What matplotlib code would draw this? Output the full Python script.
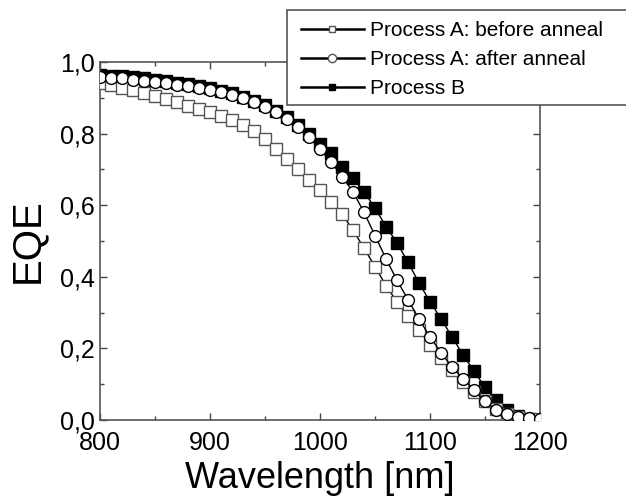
import matplotlib
matplotlib.use('Agg')
import matplotlib.pyplot as plt
from matplotlib.lines import Line2D
from matplotlib.patches import Rectangle
from matplotlib.ticker import MultipleLocator, FuncFormatter
import numpy as np

wavelength = list(range(800, 1201, 10))

# Process A: before anneal (open squares)
eqe_a_before = [0.940, 0.935, 0.928, 0.921, 0.914, 0.906, 0.897, 0.888, 0.878, 0.869,
                0.860, 0.848, 0.838, 0.825, 0.808, 0.785, 0.758, 0.730, 0.700, 0.670,
                0.642, 0.610, 0.575, 0.530, 0.480, 0.428, 0.375, 0.330, 0.290, 0.250,
                0.210, 0.172, 0.140, 0.107, 0.077, 0.052, 0.032, 0.016, 0.007, 0.003,
                0.002]

# Process A: after anneal (open circles)
eqe_a_after = [0.958, 0.956, 0.954, 0.951, 0.948, 0.945, 0.941, 0.937, 0.933, 0.928,
               0.922, 0.915, 0.908, 0.899, 0.887, 0.874, 0.859, 0.840, 0.818, 0.790,
               0.756, 0.720, 0.680, 0.637, 0.580, 0.515, 0.450, 0.390, 0.336, 0.282,
               0.232, 0.188, 0.148, 0.115, 0.083, 0.052, 0.029, 0.016, 0.008, 0.005,
               0.004]

# Process B (filled squares)
eqe_b = [0.964, 0.962, 0.960, 0.957, 0.954, 0.950, 0.946, 0.942, 0.938, 0.933,
         0.927, 0.920, 0.912, 0.903, 0.892, 0.879, 0.864, 0.846, 0.824, 0.798,
         0.770, 0.745, 0.708, 0.676, 0.637, 0.592, 0.540, 0.495, 0.440, 0.383,
         0.330, 0.283, 0.232, 0.182, 0.137, 0.091, 0.056, 0.028, 0.010, 0.003,
         0.001]

labels = ['Process A: before anneal', 'Process A: after anneal', 'Process B']

plt.rcParams['font.family'] = ['Liberation Sans', 'DejaVu Sans']


def main():
    fig = plt.figure(figsize=(6.26, 4.97), dpi=100)
    ax = fig.add_axes([0.16, 0.155, 0.7026, 0.7203])

    ax.plot(wavelength, eqe_b, color='black', lw=1, marker='s', ms=8,
            mfc='black', mec='black', mew=1, zorder=2)
    ax.plot(wavelength, eqe_a_before, color='black', lw=1, marker='s', ms=8,
            mfc='white', mec='#555555', mew=1, zorder=3)
    ax.plot(wavelength, eqe_a_after, color='black', lw=1, marker='o', ms=8.5,
            mfc='white', mec='black', mew=1, zorder=4)

    ax.set_xlim(800, 1200)
    ax.set_ylim(0, 1.0)
    ax.xaxis.set_major_locator(MultipleLocator(100))
    ax.xaxis.set_minor_locator(MultipleLocator(50))
    ax.yaxis.set_major_locator(MultipleLocator(0.2))
    ax.yaxis.set_minor_locator(MultipleLocator(0.1))
    ax.yaxis.set_major_formatter(FuncFormatter(lambda v, p: ('%.1f' % v).replace('.', ',')))

    ax.tick_params(which='both', direction='in', top=True, right=True,
                   color='#444444', labelsize=18)
    ax.tick_params(axis='x', which='major', pad=8)
    ax.tick_params(axis='y', which='major', pad=4)
    ax.tick_params(which='major', length=5, width=1)
    ax.tick_params(which='minor', length=3, width=1)
    for s in ax.spines.values():
        s.set_color('#555555')
        s.set_linewidth(1.2)

    ax.set_xlabel('Wavelength [nm]', fontsize=26, labelpad=4)
    ax.set_ylabel('EQE', fontsize=29, labelpad=10)

    # legend frame runs off the right edge of the picture
    fig.patches.append(Rectangle((287 / 626, 1 - 105 / 497), 0.6, 95 / 497,
                                 transform=fig.transFigure, facecolor='white',
                                 edgecolor='#555555', lw=1.2, zorder=9))

    handles = [
        Line2D([], [], color='black', lw=1.8, marker='s', ms=5, mfc='white', mec='#555555'),
        Line2D([], [], color='black', lw=1.8, marker='o', ms=6, mfc='white', mec='#555555'),
        Line2D([], [], color='black', lw=1.8, marker='s', ms=5, mfc='black', mec='black'),
    ]
    leg = fig.legend(handles, labels, loc='upper left',
                     bbox_to_anchor=(301 / 626, 1 - 21 / 497), fontsize=15,
                     frameon=False, handlelength=3.0,
                     handletextpad=0.3, labelspacing=0.48, borderpad=0,
                     borderaxespad=0)
    leg.set_zorder(10)

    fig.savefig('out.png', dpi=100)


if __name__ == "__main__":
    main()
